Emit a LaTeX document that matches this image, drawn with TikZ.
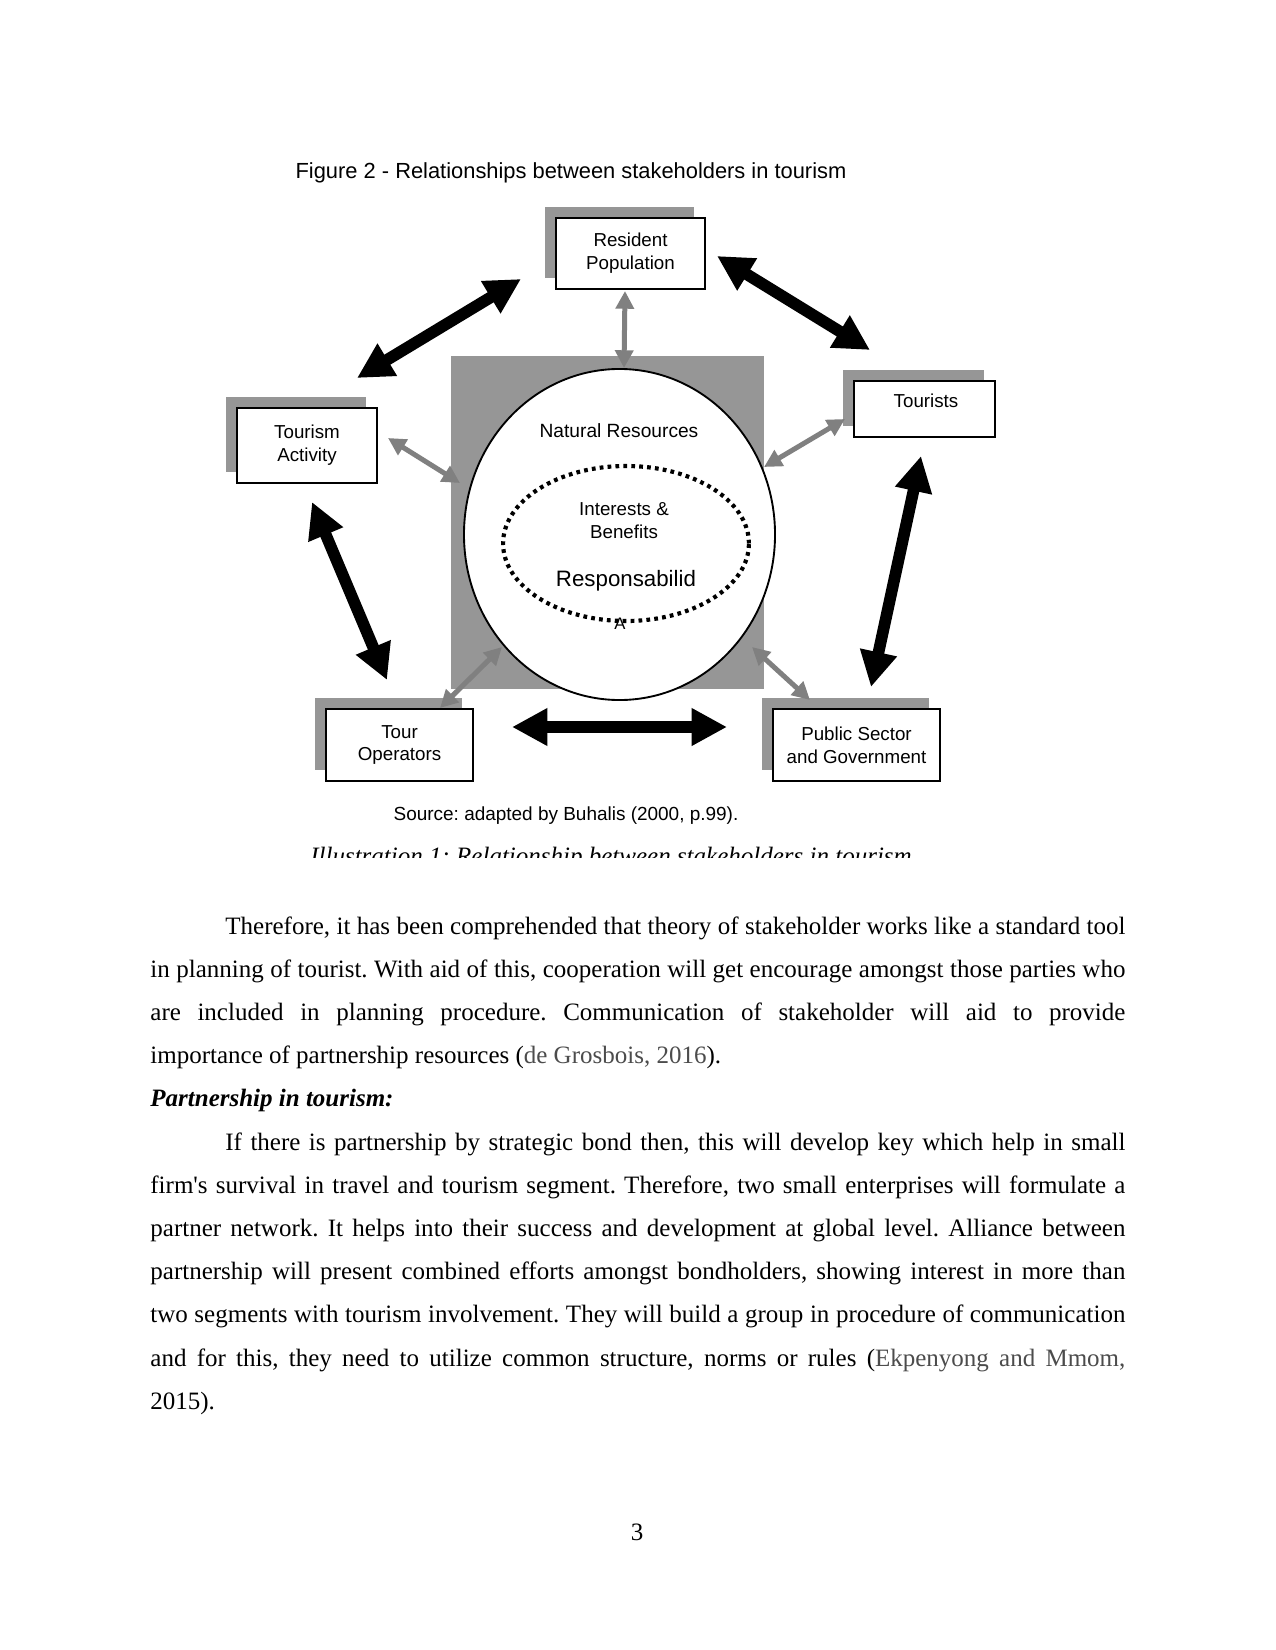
\documentclass[tikz,border=0pt]{standalone}
\usepackage{fontspec}
\setmainfont{Liberation Serif}
\newfontfamily\figfont{Liberation Sans}
\newfontfamily\bodyfont{Liberation Serif}
\usetikzlibrary{arrows.meta,shapes.geometric,shadows}
\frenchspacing
\definecolor{shgray}{rgb}{0.59,0.59,0.59}
\definecolor{arrgray}{rgb}{0.5,0.5,0.5}
\definecolor{citegray}{rgb}{0.3,0.3,0.3}
\tikzset{stk/.style={draw, line width=0.9pt, fill=white, inner sep=0pt, align=center,
    font=\figfont\fontsize{9}{11}\selectfont,
    general shadow={fill=shgray, opacity=1, shadow xshift=-5.3pt, shadow yshift=5.3pt}},
  barr/.style={line width=5.6pt, {Triangle[length=17pt,width=17pt]}-{Triangle[length=17pt,width=17pt]}},
  garr/.style={color=arrgray, line width=2.4pt, {Triangle[length=8.5pt,width=8.5pt]}-{Triangle[length=8.5pt,width=8.5pt]}},
  lbl/.style={font=\figfont\fontsize{9}{11}\selectfont, inner sep=0pt, anchor=base},
  body/.style={font=\bodyfont\fontsize{12}{14}\selectfont, inner sep=0pt, anchor=base west}}
\newcommand\jline[3]{\node[body] (#1) at (150,#2) {\makebox[468pt][s]{#3}};}

\begin{document}
\begin{tikzpicture}[x=0.48pt, y=-0.48pt]
  \useasboundingbox[fill=white] (0,0) rectangle (1275,1650);
  % figure title
  \node[lbl, font=\figfont\fontsize{10.5}{12}\selectfont] (title) at (571,179) {Figure 2 - Relationships between stakeholders in tourism};
  % centre: resources
  \node[fill=shgray, minimum width=150.2pt, minimum height=159.8pt, inner sep=0pt] (natbg) at (607.5,522.5) {};
  \node[ellipse, draw, line width=0.9pt, fill=white, minimum width=149.3pt, minimum height=158.9pt, inner sep=0pt] (nat) at (619.5,534.5) {};
  \node[ellipse, draw, line width=2pt, dash pattern=on 1.8pt off 2pt, minimum width=118pt, minimum height=74.4pt, inner sep=0pt] (intr) at (626,543.5) {};
  \node[lbl, font=\figfont\fontsize{9.2}{11}\selectfont] (natl) at (619,438) {Natural Resources};
  \node[lbl, align=center] (intl) at (624,538) {Interests \&\\Benefits};
  \node[lbl, font=\figfont\fontsize{10.7}{12}\selectfont] (resp) at (626,586) {Responsabilid};
  \node[lbl, font=\figfont\fontsize{8}{9}\selectfont] (respa) at (620,629) {A};
  % stakeholders
  \node[stk, minimum width=71.5pt, minimum height=34.1pt] (res) at (630.5,253.5) {Resident\\Population};
  \node[stk, minimum width=67.7pt, minimum height=26.9pt] (tou) at (924.5,409) {};
  \node[lbl] (toul) at (926,408) {Tourists};
  \node[stk, minimum width=67.2pt, minimum height=36pt] (act) at (307,445.5) {Tourism\\Activity};
  \node[stk, minimum width=70.6pt, minimum height=34.6pt] (ops) at (399.5,745) {Tour\\Operators};
  \node[stk, minimum width=80.2pt, minimum height=34.6pt] (pub) at (856.5,745) {Public Sector\\and Government};
  % arrow ends
  \coordinate (a1s) at (357,378); \coordinate (a1e) at (521,279);
  \coordinate (a2s) at (717,256); \coordinate (a2e) at (870,350);
  \coordinate (a3s) at (921,456); \coordinate (a3e) at (871,687);
  \coordinate (a4s) at (312,502); \coordinate (a4e) at (387,680);
  \coordinate (a5s) at (512,727); \coordinate (a5e) at (727,727);
  \coordinate (g1s) at (625,291); \coordinate (g1e) at (624,368);
  \coordinate (g2s) at (388,438); \coordinate (g2e) at (460,483);
  \coordinate (g3s) at (845,419); \coordinate (g3e) at (764,467);
  \coordinate (g4s) at (440,708); \coordinate (g4e) at (502,647);
  \coordinate (g5s) at (810,700); \coordinate (g5e) at (752,647);
  \foreach \a in {a1,a2,a3,a4,a5}{\draw[barr] (\a s) -- (\a e);}
  \foreach \g in {g1,g2,g3,g4,g5}{\draw[garr] (\g s) -- (\g e);}
  % source and caption
  \node[lbl, font=\figfont\fontsize{9.1}{11}\selectfont] (src) at (566,820) {Source: adapted by Buhalis (2000, p.99).};
  \begin{scope}
    \clip (280,830) rectangle (960,857);
    \node[body, anchor=base, font=\bodyfont\itshape\fontsize{12}{14}\selectfont] (capt) at (611,864) {Illustration 1: Relationship between stakeholders in tourism};
  \end{scope}
  % body text
  \node[body] (l1) at (225,934) {\makebox[432pt][s]{Therefore, it has been comprehended that theory of stakeholder works like a standard tool}};
  \jline{l2}{977.2}{in planning of tourist. With aid of this, cooperation will get encourage amongst those parties who}
  \jline{l3}{1020.4}{are included in planning procedure. Communication of stakeholder will aid to provide}
  \node[body] (l4) at (150,1063.6) {importance of partnership resources ({\color{citegray}de Grosbois, 2016}).};
  \node[body] (l5) at (150,1106.8) {\bfseries\itshape Partnership in tourism:};
  \node[body] (l6) at (225,1150) {\makebox[432pt][s]{If there is partnership by strategic bond then, this will develop key which help in small}};
  \jline{l7}{1193.2}{firm's survival in travel and tourism segment. Therefore, two small enterprises will formulate a}
  \jline{l8}{1236.4}{partner network. It helps into their success and development at global level. Alliance between}
  \jline{l9}{1279.6}{partnership will present combined efforts amongst bondholders, showing interest in more than}
  \jline{l10}{1322.8}{two segments with tourism involvement. They will build a group in procedure of communication}
  \jline{l11}{1366}{and for this, they need to utilize common structure, norms or rules ({\color{citegray}Ekpenyong and Mmom,}}
  \node[body] (l12) at (150,1409.2) {2015).};
  \node[body, anchor=base] (pg) at (637,1540) {3};
\end{tikzpicture}
\end{document}
